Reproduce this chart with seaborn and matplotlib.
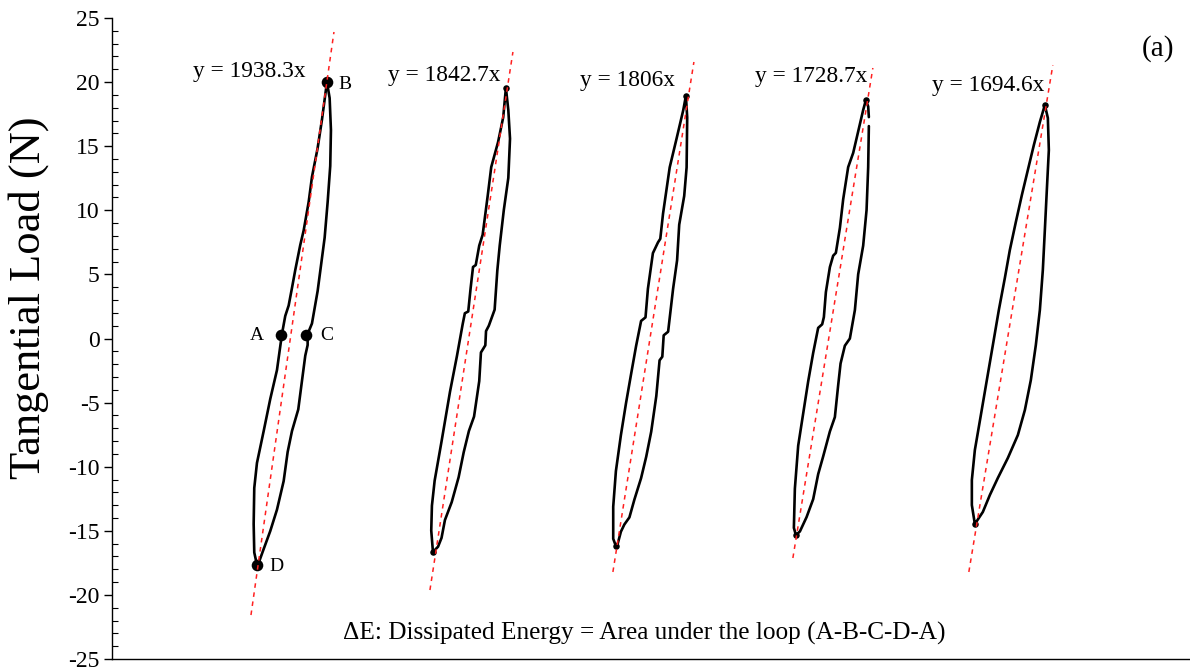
import numpy as np
import pandas as pd
import matplotlib
matplotlib.use("Agg")
import matplotlib.pyplot as plt
from matplotlib.ticker import MultipleLocator
import seaborn as sns

# ---------------- data (displacement in um, tangential load in N) ----------------
loop1_x = [41.0, 40.23, 40.06, 40.23, 40.99, 42.89, 44.75, 46.65, 48.06, 48.99,
           49.95, 50.89, 51.82, 53.23, 54.19, 55.61, 56.54, 58.15, 59.37, 60.78,
           61.54, 61.91, 61.71, 60.98, 60.13, 59.08, 58.15, 56.54, 55.32, 55.32,
           54.65, 53.71, 52.67, 50.89, 49.67, 48.54, 46.65, 44.75, 42.89, 41.47, 41.0]
loop1_y = [-17.67, -16.69, -14.47, -11.66, -9.71, -7.22, -4.72, -2.46, 0.35, 1.76,
           2.57, 3.94, 5.34, 7.29, 8.42, 10.65, 12.6, 14.86, 17.07, 20.0,
           18.76, 16.26, 13.46, 10.65, 7.87, 5.66, 3.71, 1.17, 0.35, -0.51,
           -1.34, -3.32, -5.53, -7.22, -8.85, -11.12, -13.35, -15.02, -16.42, -17.51, -17.67]

loop2_x = [90.75, 90.27, 90.46, 91.23, 93.18, 95.58, 97.53, 99.17, 99.77, 100.73,
           101.4, 102.08, 102.85, 103.84, 104.8, 106.24, 107.23, 109.15, 110.62, 111.38,
           112.06, 112.54, 112.06, 110.79, 109.63, 108.95, 108.19, 106.55, 105.76, 105.56,
           104.32, 103.84, 102.37, 100.92, 99.45, 98.01, 96.06, 94.14, 93.18, 92.19, 90.75]
loop2_y = [-16.65, -14.98, -13.04, -11.09, -8.03, -4.14, -1.37, 1.14, 1.97, 2.11,
           3.92, 5.58, 5.73, 7.25, 8.09, 11.15, 13.37, 15.31, 17.26, 19.54,
           17.82, 15.59, 12.53, 10.03, 7.25, 5.3, 2.25, 1.0, 0.58, -0.53,
           -1.09, -3.32, -6.09, -7.21, -8.87, -10.82, -12.76, -14.16, -15.55, -16.24, -16.65]

loop3_x = [142.48, 141.72, 141.72, 142.48, 143.89, 145.34, 146.75, 148.19, 149.6, 150.85,
           151.53, 152.94, 154.38, 155.03, 155.8, 157.69, 159.61, 161.51, 162.27,
           162.64, 162.47, 161.79, 160.38, 159.78, 158.65, 157.24, 155.99, 155.6, 154.83,
           153.9, 152.46, 151.05, 149.6, 147.71, 146.3, 144.86, 143.89, 142.96, 142.48]
loop3_y = [-16.19, -15.62, -13.12, -10.34, -7.54, -5.04, -2.81, -0.58, 1.37, 1.65,
           3.88, 6.66, 7.5, 7.78, 9.73, 13.35, 15.57, 17.8, 18.92,
           17.25, 13.35, 11.12, 8.88, 6.1, 3.88, 0.53, 0.25, -1.42, -1.7,
           -4.49, -7.27, -9.22, -10.89, -12.56, -13.95, -14.51, -15.07, -16.04, -16.19]

loop4_x = [193.37, 192.8, 193.08, 194.02, 195.43, 196.84, 198.26, 199.67, 200.8, 201.28,
           201.85, 202.98, 203.91, 204.67, 205.81, 206.74, 208.15, 209.57, 210.98, 212.39,
           213.16, 213.81, 214.0, np.nan, 214.0, 213.81, 213.35, 212.39, 210.98, 210.05,
           208.63, 207.22, 206.0, 205.33, 204.39, 202.98, 201.08, 199.67, 198.26, 196.39,
           194.5, 193.37]
loop4_y = [-15.33, -14.77, -11.71, -8.36, -5.85, -3.35, -1.12, 0.83, 1.11, 1.67,
           3.62, 5.57, 6.46, 6.68, 8.63, 10.86, 13.37, 14.48, 16.15, 17.82,
           18.6, 18.1, 17.27, np.nan, 16.57, 13.37, 10.02, 7.24, 5.01, 2.22,
           0.0, -0.56, -1.95, -3.63, -6.13, -7.25, -9.2, -10.58, -12.53, -13.93,
           -15.05, -15.33]

loop5_x = [243.97, 243.12, 243.12, 243.97, 245.67, 247.36, 249.06, 250.75, 252.45, 253.86,
           255.56, 257.26, 258.95, 260.65, 262.35, 263.76,
           264.61, 264.89, 264.32, 263.76, 263.19, 262.35, 261.21, 259.8, 258.11, 256.13,
           253.3, 250.47, 248.21, 246.23, 243.97]
loop5_y = [-14.47, -12.99, -11.04, -8.7, -5.97, -3.24, -0.51, 2.22, 4.72, 6.9,
           9.09, 11.19, 13.14, 15.09, 16.89, 18.21,
           17.2, 14.7, 11.58, 8.46, 5.34, 2.22, -0.51, -3.24, -5.58, -7.53,
           -9.32, -10.88, -12.21, -13.53, -14.47]

# linear fits (red dashed), end points
fit_x_top = [62.76, 113.36, 164.53, 215.13, 266.02]
fit_y_top = [23.91, 22.35, 21.57, 21.10, 21.33]
fit_x_bot = [39.30, 89.90, 141.63, 192.52, 242.27]
fit_y_bot = [-21.57, -19.62, -18.21, -17.12, -18.21]
slopes = [1938.3, 1842.7, 1806, 1728.7, 1694.6]

# loop extreme points (small markers, loops 2-5)
peak_x = [111.38, 162.27, 213.16, 263.76]
peak_y = [19.54, 18.92, 18.60, 18.21]
valley_x = [90.75, 142.48, 193.37, 243.97]
valley_y = [-16.65, -16.19, -15.33, -14.47]

# labelled points on the first loop
pt_names = ["A", "B", "C", "D"]
pt_x = [47.9, 60.78, 54.84, 40.99]
pt_y = [0.25, 20.0, 0.27, -17.67]

# ---------------- layout ----------------
eq_x = [22.9, 78.0, 132.3, 181.8, 231.8]
eq_y = [20.79, 20.55, 20.16, 20.40, 19.77]
name_x = [41.0, 65.9, 60.8, 46.6]
name_y = [0.2, 19.85, 0.2, -17.75]

sns.set_theme(style="ticks")
plt.rcParams["font.family"] = ["Liberation Serif", "DejaVu Serif"]
plt.rcParams["axes.unicode_minus"] = False
for k in ["text.color", "axes.labelcolor", "xtick.color", "ytick.color", "axes.edgecolor"]:
    plt.rcParams[k] = "black"

fig = plt.figure(figsize=(11.9, 6.7), dpi=100)
ax = fig.add_axes([0.0941, 0.0164, 0.9059, 0.9567])

# build loop frame with segment ids (NaN breaks a segment)
rows = []
seg = 0
for xs, ys in [(loop1_x, loop1_y), (loop2_x, loop2_y), (loop3_x, loop3_y),
               (loop4_x, loop4_y), (loop5_x, loop5_y)]:
    seg += 1
    for xv, yv in zip(xs, ys):
        if np.isnan(xv):
            seg += 1
            continue
        rows.append({"x": xv, "y": yv, "seg": seg})
loops = pd.DataFrame(rows)

sns.lineplot(data=loops, x="x", y="y", units="seg", estimator=None, sort=False,
             color="black", linewidth=1.9, ax=ax, legend=False)

fit_rows = []
for i in range(5):
    fit_rows.append({"x": fit_x_bot[i], "y": fit_y_bot[i], "loop": i})
    fit_rows.append({"x": fit_x_top[i], "y": fit_y_top[i], "loop": i})
fits = pd.DataFrame(fit_rows)
sns.lineplot(data=fits, x="x", y="y", units="loop", estimator=None, sort=False,
             color="#ff2020", linewidth=1.1, linestyle=(0, (3, 3)), ax=ax,
             legend=False, zorder=4)

sns.scatterplot(x=peak_x + valley_x, y=peak_y + valley_y, color="black", s=22,
                edgecolor="black", linewidth=0, ax=ax, zorder=3)
sns.scatterplot(x=pt_x, y=pt_y, color="black", s=70, edgecolor="black",
                linewidth=0, ax=ax, zorder=3)

for i, s in enumerate(slopes):
    ax.text(eq_x[i], eq_y[i], f"y = {s:g}x", ha="left", va="center", fontsize=16.8)
for n, xv, yv in zip(pt_names, name_x, name_y):
    ax.text(xv, yv, n, ha="center", va="center", fontsize=14)

ax.text(150.4, -22.97, "ΔE: Dissipated Energy = Area under the loop (A-B-C-D-A)",
        ha="center", va="center", fontsize=18.2)
ax.text(295.7, 22.6, "(a)", ha="center", va="center", fontsize=21)

ax.set_xlim(0, 304.8)
ax.set_ylim(-25, 25)
ax.set_xticks([])
ax.yaxis.set_major_locator(MultipleLocator(5))
ax.yaxis.set_minor_locator(MultipleLocator(1))
ax.tick_params(axis="y", which="major", direction="out", length=6, width=1,
               labelsize=17, pad=3, colors="black")
ax.tick_params(axis="y", which="minor", direction="in", length=4.5, width=0.8)
ax.set_xlabel("")
ax.set_ylabel("Tangential Load (N)", fontsize=32)
ax.yaxis.set_label_coords(-0.058, 0.563)
sns.despine(ax=ax, top=True, right=True)
for sp in ["left", "bottom"]:
    ax.spines[sp].set_color("black")
    ax.spines[sp].set_linewidth(1.0)
ax.set_facecolor("white")
fig.patch.set_facecolor("white")

fig.savefig("out.png", dpi=100)
